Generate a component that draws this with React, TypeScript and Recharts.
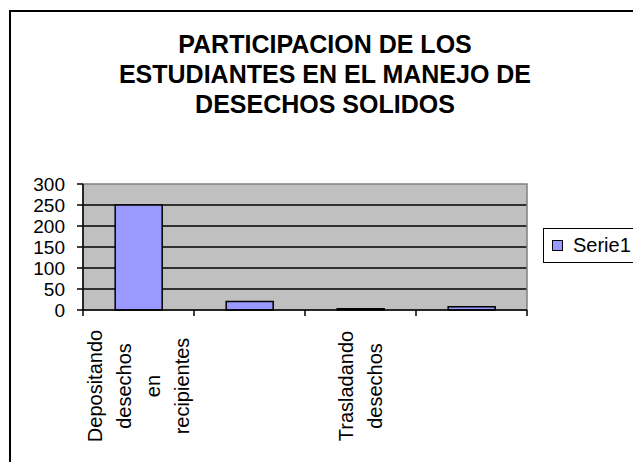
import React from 'react';
import { BarChart, Bar, XAxis, YAxis, CartesianGrid, ReferenceArea } from 'recharts';

const categories = ['Depositando desechos en recipientes', '', 'Trasladando desechos', ''];
const serie1 = [250, 20, 3, 8];
const yTicks = [0, 50, 100, 150, 200, 250, 300];
const titleLines = ['PARTICIPACION DE LOS', 'ESTUDIANTES EN EL MANEJO DE', 'DESECHOS SOLIDOS'];
const seriesName = 'Serie1';

const data = categories.map((name, i) => ({ name, value: serie1[i] }));

const FONT = 'Arial, "Liberation Sans", Helvetica, sans-serif';

// category label split one word per column, tick marks on the band edges
const CategoryTick = (props: any) => {
    const { x, y, payload, index } = props;
    const half = payload?.offset ?? 55.5;
    const words = String(payload.value || '').split(' ').filter(Boolean);
    const isLast = index === categories.length - 1;
    return (
        <g>
            <line x1={x - half} x2={x - half} y1={y - 6} y2={y} stroke="#000" strokeWidth={1.5} />
            {isLast && <line x1={x + half} x2={x + half} y1={y - 6} y2={y} stroke="#000" strokeWidth={1.5} />}
            <g transform={`translate(${x},${y + 70}) rotate(-90)`}>
                {words.map((w, i) => (
                    <text
                        key={i}
                        x={0}
                        y={(i - (words.length - 1) / 2) * 29}
                        textAnchor="middle"
                        dominantBaseline="central"
                        fontSize={20}
                        fontFamily={FONT}
                        fill="#000"
                    >
                        {w}
                    </text>
                ))}
            </g>
        </g>
    );
};

export default function App() {
    return (
        <div style={{ position: 'absolute', left: 0, top: 0, width: 633, height: 462, overflow: 'hidden', background: '#fff', fontFamily: FONT }}>
            <div style={{ position: 'absolute', left: 9, top: 10, width: 700, height: 500, borderLeft: '2px solid #000', borderTop: '2px solid #000' }} />
            <div style={{ position: 'absolute', left: 0, top: 29, width: 650, textAlign: 'center', fontWeight: 'bold', fontSize: 25, lineHeight: '30px', color: '#000' }}>
                {titleLines.map((t) => (
                    <div key={t}>{t}</div>
                ))}
            </div>
            <div style={{ position: 'absolute', left: 0, top: 0 }}>
                <BarChart width={633} height={462} data={data} margin={{ top: 184, right: 106, left: 8, bottom: 0 }} barCategoryGap="29%">
                    <CartesianGrid vertical={false} horizontalValues={[50, 100, 150, 200, 250]} stroke="#000" strokeWidth={1.5} fill="#C0C0C0" fillOpacity={1} />
                    <ReferenceArea y1={0} y2={300} fill="none" stroke="#808080" strokeWidth={1.5} ifOverflow="extendDomain" />
                    <XAxis
                        dataKey="name"
                        interval={0}
                        height={152}
                        tickLine={false}
                        tickSize={6}
                        tickMargin={0}
                        axisLine={{ stroke: '#000', strokeWidth: 1.5 }}
                        tick={<CategoryTick />}
                    />
                    <YAxis
                        width={75}
                        domain={[0, 300]}
                        ticks={yTicks}
                        interval={0}
                        tickSize={6}
                        tickMargin={12}
                        axisLine={{ stroke: '#000', strokeWidth: 1.5 }}
                        tickLine={{ stroke: '#000', strokeWidth: 1.5 }}
                        tick={{ fill: '#000', fontSize: 19, fontFamily: FONT }}
                    />
                    <Bar dataKey="value" name={seriesName} fill="#9999FF" stroke="#000" strokeWidth={1.5} isAnimationActive={false} />
                </BarChart>
            </div>
            <div style={{ position: 'absolute', left: 543, top: 228, width: 120, height: 33, border: '1.5px solid #000', background: '#fff', display: 'flex', alignItems: 'center' }}>
                <span style={{ display: 'inline-block', width: 9, height: 9, marginLeft: 8, background: '#9999FF', border: '1px solid #000' }} />
                <span style={{ marginLeft: 10, fontSize: 20, color: '#000' }}>{seriesName}</span>
            </div>
        </div>
    );
}
